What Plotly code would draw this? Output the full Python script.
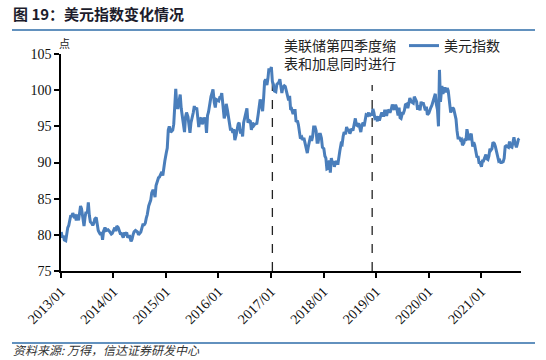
import plotly.graph_objects as go

# ---------------- data (weekly readings of the US dollar index) ----------------
dxy_2013 = [80.4, 79.6, 79.9, 79.3, 79.2, 80.2, 81.0, 81.3, 82.1, 82.7, 82.5, 83.0,
            82.5, 82.6, 82.0, 82.8, 82.0, 83.1, 84.0, 83.6, 81.9, 81.2, 82.4, 83.2,
            83.0, 84.5, 82.7, 81.8, 81.6, 81.3, 81.6, 82.2, 82.4, 81.0, 80.6, 80.3,
            80.0, 80.4, 79.3, 80.5, 81.0, 80.6, 80.6, 80.7, 80.5, 80.3, 80.1, 80.2]
dxy_2014 = [80.7, 81.0, 80.5, 81.2, 81.0, 80.5, 80.2, 80.2, 79.8, 79.6, 80.3, 80.1,
            80.3, 79.6, 79.8, 79.8, 79.1, 79.4, 80.0, 80.4, 80.6, 80.5, 80.4, 80.0,
            80.2, 80.4, 80.9, 81.4, 81.4, 81.6, 82.3, 82.8, 84.0, 84.3, 84.8, 85.8,
            86.2, 85.9, 85.2, 86.8, 87.5, 87.9, 88.0, 88.3, 88.7, 88.2, 89.5, 90.2]
dxy_2015 = [91.3, 92.0, 94.5, 95.0, 94.2, 94.3, 94.5, 95.3, 97.6, 100.2, 97.9, 97.4,
            98.6, 99.4, 97.5, 96.5, 94.6, 94.2, 96.3, 96.9, 96.3, 94.9, 94.1, 95.5,
            96.1, 96.9, 97.8, 97.3, 97.6, 96.6, 94.9, 95.9, 96.2, 95.3, 95.6, 96.2,
            95.9, 94.1, 96.5, 97.0, 98.4, 99.1, 99.6, 100.1, 98.3, 97.6, 98.7, 98.6]
dxy_2016 = [98.5, 99.0, 99.0, 99.6, 97.0, 96.1, 96.6, 98.1, 97.3, 96.2, 95.1, 94.6,
            94.6, 94.1, 94.6, 93.1, 93.8, 94.6, 95.3, 95.5, 94.0, 94.6, 93.6, 95.5,
            96.3, 96.6, 97.5, 95.5, 95.8, 95.7, 94.5, 95.5, 95.1, 95.3, 95.4, 95.4,
            96.6, 97.9, 98.7, 98.3, 97.1, 98.9, 101.2, 101.5, 100.7, 101.6, 103.0, 102.6]
dxy_2017 = [103.2, 101.2, 100.8, 99.9, 99.8, 100.8, 100.9, 101.1, 101.5, 100.7, 99.6, 100.4,
            100.6, 100.5, 99.8, 99.0, 98.6, 99.2, 97.3, 97.4, 96.7, 97.2, 97.2, 95.6,
            95.8, 95.2, 94.3, 93.3, 93.5, 93.1, 93.4, 92.7, 92.2, 91.3, 92.2, 93.1,
            93.7, 93.0, 93.6, 94.9, 94.9, 94.4, 92.8, 92.8, 93.9, 93.9, 93.4, 92.1]
dxy_2018 = [91.9, 90.9, 90.6, 89.1, 89.2, 90.3, 88.6, 90.6, 89.9, 90.2, 89.4, 89.9,
            90.2, 89.7, 90.4, 91.6, 92.6, 92.5, 93.6, 94.2, 93.9, 94.9, 94.5, 94.5,
            94.0, 94.5, 94.7, 94.4, 95.2, 96.1, 95.2, 95.1, 95.4, 94.9, 94.2, 95.1,
            95.5, 95.0, 95.7, 96.6, 96.5, 96.9, 96.4, 96.8, 96.5, 97.4, 96.9, 96.1]
dxy_2019 = [96.2, 95.7, 96.4, 95.8, 96.5, 96.9, 96.5, 96.5, 97.3, 96.6, 96.6, 97.3,
            97.0, 97.0, 97.4, 98.0, 97.5, 97.3, 98.0, 97.6, 96.5, 97.6, 96.2, 96.1,
            96.8, 96.8, 97.2, 98.0, 98.1, 97.5, 98.2, 98.9, 98.4, 98.3, 98.2, 99.1,
            98.8, 98.4, 97.3, 97.9, 97.2, 98.4, 98.0, 98.3, 97.7, 97.2, 97.7, 96.6]
dxy_2020 = [96.8, 97.4, 97.6, 97.9, 98.7, 99.1, 99.5, 98.1, 97.3, 95.0, 102.8, 98.4,
            100.6, 99.5, 100.0, 100.4, 99.7, 100.3, 99.9, 98.3, 96.9, 97.3, 97.6, 97.4,
            96.7, 96.0, 94.4, 93.4, 93.4, 93.1, 93.2, 92.4, 92.7, 93.3, 93.0, 94.6,
            93.7, 93.1, 93.7, 94.0, 92.2, 92.8, 92.4, 91.8, 90.7, 90.9, 90.0, 90.0]
dxy_2021 = [89.4, 90.2, 90.2, 90.6, 91.1, 90.5, 90.4, 90.9, 91.9, 91.7, 91.9, 92.8,
            92.6, 92.2, 91.6, 91.3, 90.2, 90.3, 90.0, 90.0, 90.1, 90.6, 92.2, 92.3,
            92.2, 92.1, 92.9, 92.2, 92.1, 93.1, 93.5, 92.7, 92.1, 92.6, 93.2, 93.3]

week_days = [3, 10, 17, 24]
tick_labels = ["2013/01", "2014/01", "2015/01", "2016/01", "2017/01",
               "2018/01", "2019/01", "2020/01", "2021/01"]
tick_dates = ["2013-01-01", "2014-01-01", "2015-01-01", "2016-01-01", "2017-01-01",
              "2018-01-01", "2019-01-01", "2020-01-01", "2021-01-01"]
event_dates = ["2017-01-10", "2018-12-05"]
event_tops = [101.7, 100.7]
series_name = "美元指数"

dates, values = [], []
for year, vals in [(2013, dxy_2013), (2014, dxy_2014), (2015, dxy_2015), (2016, dxy_2016),
                   (2017, dxy_2017), (2018, dxy_2018), (2019, dxy_2019), (2020, dxy_2020),
                   (2021, dxy_2021)]:
    for i, v in enumerate(vals):
        dates.append(f"{year}-{i // 4 + 1:02d}-{week_days[i % 4]:02d}")
        values.append(v)

BLUE = "#4A7EBB"
SERIF = "Liberation Serif, Times New Roman, serif"
CJK = "Noto Sans CJK SC"

L, T, PW, PH = 61, 54, 460, 217   # plot box in pixels


def px(x):
    return (x - L) / PW


def py(y):
    return (T + PH - y) / PH


fig = go.Figure()
fig.add_trace(go.Scatter(x=dates, y=values, mode="lines", name=series_name,
                         line=dict(color=BLUE, width=3)))

for d, top in zip(event_dates, event_tops):
    fig.add_shape(type="line", xref="x", yref="y", x0=d, x1=d, y0=75, y1=top,
                  line=dict(color="#222", width=1.3, dash="dash"), layer="below")

fig.update_layout(
    width=546, height=360,
    margin=dict(l=L, r=546 - L - PW, t=T, b=360 - T - PH, autoexpand=False),
    paper_bgcolor="white", plot_bgcolor="white",
    showlegend=True,
    legend=dict(x=px(404), y=py(46), xanchor="left", yanchor="middle",
                font=dict(family=CJK, size=14, color="#222"),
                bgcolor="rgba(0,0,0,0)", itemwidth=30),
    xaxis=dict(type="date", range=["2013-01-01", "2021-10-05"], automargin=False,
               tickmode="array", tickvals=tick_dates, ticktext=tick_labels,
               tickangle=-45, tickfont=dict(family=SERIF, size=14, color="#111"),
               showgrid=False, zeroline=False, showline=True, linecolor="black",
               linewidth=1.5, ticks="outside", ticklen=5, tickwidth=1.5,
               tickcolor="black"),
    yaxis=dict(range=[75, 105], tickmode="linear", tick0=75, dtick=5, automargin=False,
               tickfont=dict(family=SERIF, size=14, color="#111"),
               showgrid=False, zeroline=False, showline=True, linecolor="black",
               linewidth=1.5, ticks="outside", ticklen=5, tickwidth=1.5,
               tickcolor="black"),
)

# title, rules, source and notes
fig.add_annotation(xref="paper", yref="paper", x=px(11), y=py(14),
                   xanchor="left", yanchor="middle", showarrow=False,
                   text="<b>图 19：美元指数变化情况</b>",
                   font=dict(family=CJK, size=15, color="#1c1c2c"))
fig.add_shape(type="line", xref="paper", yref="paper",
              x0=px(12), x1=px(535), y0=py(30), y1=py(30),
              line=dict(color="#2E6DA8", width=1.5))
fig.add_shape(type="line", xref="paper", yref="paper",
              x0=px(12), x1=px(535), y0=py(343), y1=py(343),
              line=dict(color="#2E6DA8", width=1.5))
fig.add_annotation(xref="paper", yref="paper", x=px(12), y=py(350),
                   xanchor="left", yanchor="middle", showarrow=False,
                   text="<i>资料来源: 万得，信达证券研发中心</i>",
                   font=dict(family=CJK, size=12, color="#333"), borderpad=0)
fig.add_annotation(xref="paper", yref="paper", x=px(57), y=py(43),
                   xanchor="left", yanchor="middle", showarrow=False,
                   text="点", font=dict(family=CJK, size=11, color="#222"))
fig.add_annotation(xref="paper", yref="paper", x=px(282), y=py(54),
                   xanchor="left", yanchor="middle", showarrow=False, align="left",
                   text="美联储第四季度缩<br>表和加息同时进行",
                   font=dict(family=CJK, size=14, color="#222"))

fig.write_html("out.html", config={"displayModeBar": False},
               post_script="document.body.style.margin='0';"
                           "document.body.style.overflow='hidden';")
